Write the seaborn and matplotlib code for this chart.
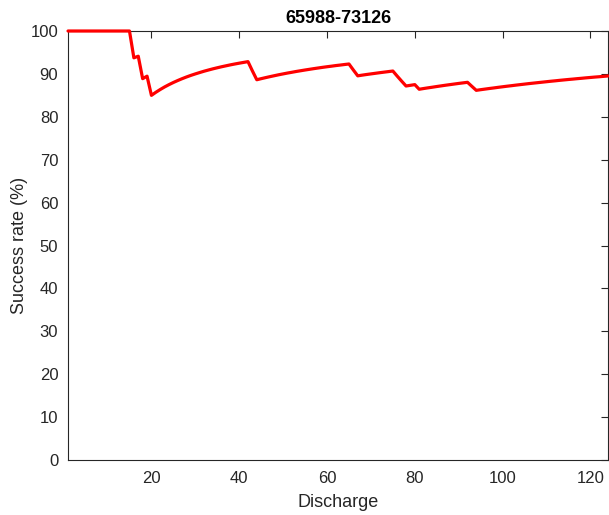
import numpy as np
import pandas as pd
import matplotlib
matplotlib.use("Agg")
import matplotlib.pyplot as plt
import seaborn as sns

# Cumulative success rate per discharge
discharge = list(range(1, 125))
success_rate = [
    100.00, 100.00, 100.00, 100.00, 100.00, 100.00, 100.00, 100.00, 100.00, 100.00,
    100.00, 100.00, 100.00, 100.00, 100.00, 93.75, 94.12, 88.89, 89.47, 85.00,
    85.71, 86.36, 86.96, 87.50, 88.00, 88.46, 88.89, 89.29, 89.66, 90.00,
    90.32, 90.63, 90.91, 91.18, 91.43, 91.67, 91.89, 92.11, 92.31, 92.50,
    92.68, 92.86, 90.70, 88.64, 88.89, 89.13, 89.36, 89.58, 89.80, 90.00,
    90.20, 90.38, 90.57, 90.74, 90.91, 91.07, 91.23, 91.38, 91.53, 91.67,
    91.80, 91.94, 92.06, 92.19, 92.31, 90.91, 89.55, 89.71, 89.86, 90.00,
    90.14, 90.28, 90.41, 90.54, 90.67, 89.47, 88.31, 87.18, 87.34, 87.50,
    86.42, 86.59, 86.75, 86.90, 87.06, 87.21, 87.36, 87.50, 87.64, 87.78,
    87.91, 88.04, 87.10, 86.17, 86.32, 86.46, 86.60, 86.73, 86.87, 87.00,
    87.13, 87.25, 87.38, 87.50, 87.62, 87.74, 87.85, 87.96, 88.07, 88.18,
    88.29, 88.39, 88.50, 88.60, 88.70, 88.79, 88.89, 88.98, 89.08, 89.17,
    89.26, 89.34, 89.43, 89.52,
]
title_text = "65988-73126"
x_ticks = [20, 40, 60, 80, 100, 120]
y_ticks = [0, 10, 20, 30, 40, 50, 60, 70, 80, 90, 100]

df = pd.DataFrame({"Discharge": discharge, "Success rate (%)": success_rate})

sns.set_style("white")
plt.rcParams["font.family"] = ["Liberation Sans", "DejaVu Sans"]

ink = "#262626"
fig = plt.figure(figsize=(6.09, 5.15), dpi=100)
ax = fig.add_axes([0.1117, 0.1068, 0.8866, 0.833])

sns.lineplot(data=df, x="Discharge", y="Success rate (%)", ax=ax,
             color="#ff0000", linewidth=2.3, clip_on=False, zorder=5)

ax.set_xlim(1, 124)
ax.set_ylim(0, 100)
ax.set_xticks(x_ticks)
ax.set_yticks(y_ticks)

for side in ["left", "right", "top", "bottom"]:
    ax.spines[side].set_visible(True)
    ax.spines[side].set_color(ink)
    ax.spines[side].set_linewidth(0.8)

ax.tick_params(axis="both", which="both", direction="in", length=5, width=0.8,
               colors=ink, labelsize=12, top=True, right=True,
               labeltop=False, labelright=False)
ax.tick_params(axis="x", pad=8)
ax.tick_params(axis="y", pad=7)

ax.set_xlabel("Discharge", fontsize=13, color=ink, labelpad=6)
ax.set_ylabel("Success rate (%)", fontsize=13, color=ink, labelpad=2)
ax.set_title(title_text, fontsize=13, fontweight="bold", color="black", pad=6)

fig.savefig("out.png", dpi=100)
